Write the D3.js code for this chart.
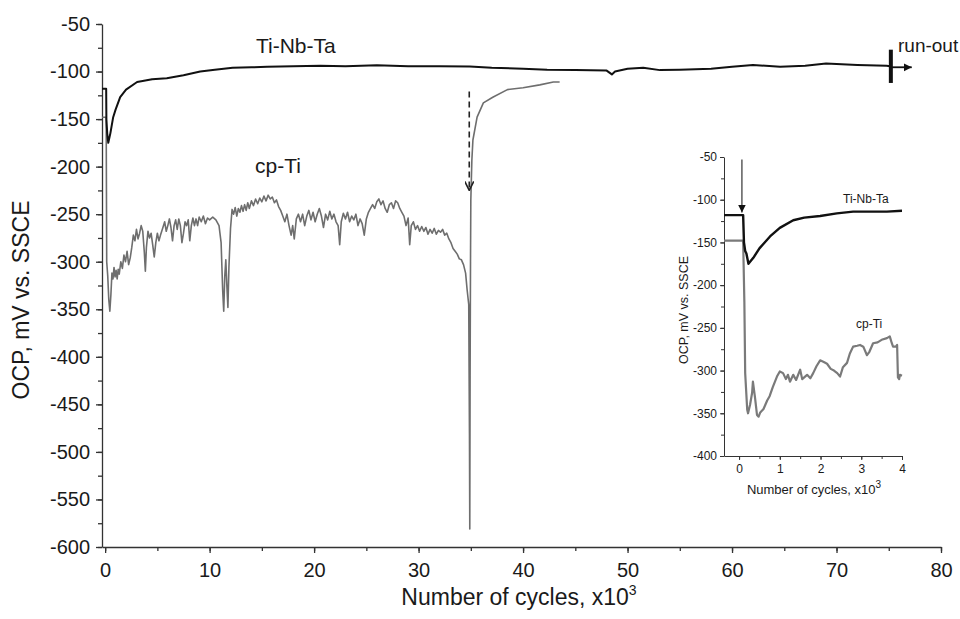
<!DOCTYPE html>
<html>
<head>
<meta charset="utf-8">
<script src="https://cdn.jsdelivr.net/npm/d3@7"></script>
<style>
  body { margin: 0; background: #fff; }
  svg text { font-family: "Liberation Sans", Arial, sans-serif; fill: #1a1a1a; }
  .axis path, .axis line { stroke: #333; }
</style>
</head>
<body>
<div id="chart"></div>
<script>
// main plot data (x in thousands of cycles, y in mV vs SSCE)
var tiNbTaX = [-0.3, 0.1, 0.12, 0.2, 0.3, 0.5, 0.77, 1.0, 1.44, 2.0, 3.06, 4.5, 5.9, 7.5, 9.1, 10.5, 12.2, 14, 15.5, 18, 20.6, 23, 26, 29, 32, 34.9, 37, 40, 42.3, 45, 48.0, 48.5, 48.8, 50, 51.5, 53.1, 55, 58, 60, 62, 64.6, 67, 69, 72, 74.8, 75.1];
var tiNbTaY = [-118, -118, -150, -165, -175, -165, -148, -140, -127, -119, -111, -108, -107, -104, -100, -98, -96, -95.5, -95, -94.5, -94, -94.5, -93.5, -94.5, -94.5, -94.6, -96, -97, -98, -98.5, -99, -103, -100, -97, -96, -98.5, -98, -97, -95, -93, -95, -94, -91.5, -93, -94, -94.5];

var cpTiX = [
  -0.3, 0.1, 0.15, 0.25, 0.35, 0.45, 0.55, 0.65, 0.75, 0.85,
  0.95, 1.05, 1.15, 1.25, 1.35, 1.5, 1.65, 1.8, 1.95, 2.1,
  2.25, 2.4, 2.55, 2.7, 2.85, 3.0, 3.15, 3.3, 3.45, 3.6,
  3.75, 3.85, 3.95, 4.1, 4.25, 4.4, 4.55, 4.7, 4.85, 5.0,
  5.15, 5.3, 5.5, 5.7, 5.85, 6.0, 6.15, 6.3, 6.45, 6.6,
  6.75, 6.9, 7.05, 7.2, 7.35, 7.5, 7.65, 7.8, 7.95, 8.1,
  8.25, 8.4, 8.55, 8.7, 8.85, 9.0, 9.2, 9.4, 9.6, 9.8,
  10.0, 10.3, 10.6, 10.9, 11.1, 11.25, 11.35, 11.45, 11.55, 11.65,
  11.75, 11.85, 12.0, 12.15, 12.3, 12.45, 12.6, 12.75, 12.9, 13.05,
  13.2, 13.35, 13.5, 13.65, 13.8, 14.0, 14.2, 14.4, 14.6, 14.8,
  15.0, 15.2, 15.4, 15.6, 15.8, 16.0, 16.2, 16.4, 16.6, 16.8,
  17.0, 17.2, 17.4, 17.6, 17.8, 17.95, 18.1, 18.3, 18.5, 18.7,
  18.9, 19.1, 19.3, 19.5, 19.7, 19.9, 20.1, 20.3, 20.5, 20.7,
  20.9, 21.1, 21.3, 21.5, 21.7, 21.9, 22.1, 22.3, 22.45, 22.6,
  22.8, 23.0, 23.2, 23.4, 23.6, 23.8, 24.0, 24.2, 24.4, 24.6,
  24.8, 25.0, 25.2, 25.4, 25.6, 25.8, 26.0, 26.2, 26.4, 26.6,
  26.8, 27.0, 27.2, 27.4, 27.6, 27.8, 28.0, 28.2, 28.4, 28.6,
  28.8, 29.0, 29.15, 29.3, 29.5, 29.7, 29.9, 30.1, 30.3, 30.5,
  30.7, 30.9, 31.1, 31.3, 31.5, 31.7, 31.9, 32.1, 32.3, 32.5,
  32.7, 32.9, 33.1, 33.3, 33.5, 33.7, 33.9, 34.1, 34.3, 34.5,
  34.65, 34.8, 34.87, 34.9, 34.93, 34.97, 35.0, 35.1, 35.2, 35.6,
  36.2, 37.1, 38.5, 40.0, 41.6, 42.9, 43.5
];
var cpTiY = [
  -148, -148, -300, -315, -340, -352, -335, -312, -318, -306,
  -316, -309, -318, -308, -313, -300, -307, -293, -300, -289,
  -303, -296, -285, -272, -278, -266, -276, -270, -262, -268,
  -290, -310, -285, -268, -275, -270, -282, -295, -280, -270,
  -278, -272, -265, -258, -268, -262, -255, -264, -278, -262,
  -256, -266, -255, -262, -280, -270, -258, -262, -256, -278,
  -262, -254, -262, -255, -262, -253, -258, -252, -260, -254,
  -256, -253, -256, -262, -280, -330, -352, -315, -298, -325,
  -348, -305, -265, -245, -250, -243, -252, -244, -248, -241,
  -247, -240, -246, -238, -244, -236, -241, -234, -239, -233,
  -237, -231, -236, -230, -234, -232, -238, -235, -242, -246,
  -252, -258, -250, -262, -272, -262, -276, -255, -250, -258,
  -250, -262, -252, -246, -256, -248, -258, -250, -244, -252,
  -264, -250, -256, -247, -255, -250, -258, -262, -282, -258,
  -249, -255, -248, -258, -252, -256, -250, -262, -255, -260,
  -272, -255, -248, -244, -240, -244, -237, -234, -240, -236,
  -244, -248, -240, -238, -244, -236, -238, -244, -248, -252,
  -262, -254, -282, -262, -258, -266, -262, -268, -263, -268,
  -264, -271, -266, -270, -265, -271, -267, -269, -266, -272,
  -270, -276, -280, -286, -289, -292, -297, -298, -303, -312,
  -330, -345, -480, -581, -420, -300, -235, -193, -172, -148,
  -133, -127, -119, -117, -114, -111, -111
];

var xTicks = [0, 10, 20, 30, 40, 50, 60, 70, 80];
var yTicks = [-50, -100, -150, -200, -250, -300, -350, -400, -450, -500, -550, -600];

// inset data (first 4000 cycles)
var insetTiNbTaX = [-0.37, 0.1, 0.12, 0.15, 0.18, 0.23, 0.35, 0.5, 0.76, 1.0, 1.33, 1.6, 1.99, 2.4, 2.8, 3.2, 3.63, 4.0];
var insetTiNbTaY = [-118, -118, -150, -160, -163, -175, -168, -157, -143, -133, -124, -121, -119, -116, -114, -114, -114, -113];

var insetCpTiX = [-0.37, 0.1, 0.13, 0.15, 0.2, 0.22, 0.27, 0.32, 0.34, 0.39, 0.44, 0.48, 0.52, 0.6, 0.69, 0.75, 0.83, 0.93, 1.0, 1.08, 1.15, 1.2, 1.25, 1.33, 1.4, 1.5, 1.55, 1.67, 1.75, 1.82, 1.9, 1.99, 2.08, 2.16, 2.25, 2.33, 2.41, 2.48, 2.55, 2.65, 2.72, 2.8, 2.9, 2.97, 3.05, 3.14, 3.2, 3.29, 3.4, 3.5, 3.63, 3.7, 3.75, 3.78, 3.85, 3.88, 3.9, 3.93, 3.95, 4.0];
var insetCpTiY = [-148, -148, -220, -303, -346, -350, -340, -326, -313, -331, -352, -354, -349, -345, -335, -330, -319, -307, -301, -303, -310, -305, -313, -305, -311, -299, -310, -305, -309, -303, -295, -288, -290, -292, -298, -300, -303, -307, -296, -291, -280, -272, -271, -270, -272, -282, -278, -268, -267, -264, -262, -260, -268, -272, -272, -270, -308, -310, -305, -306];

var insetXTicks = [0, 1, 2, 3, 4];
var insetYTicks = [-50, -100, -150, -200, -250, -300, -350, -400];

var width = 960, height = 619;

var svg = d3.select("#chart").append("svg")
  .attr("width", width)
  .attr("height", height);

var defs = svg.append("defs");
defs.append("marker")
  .attr("id", "openHead")
  .attr("viewBox", "0 0 10 10")
  .attr("refX", 10).attr("refY", 5)
  .attr("markerWidth", 11).attr("markerHeight", 9)
  .attr("markerUnits", "userSpaceOnUse")
  .attr("orient", "auto")
  .append("path")
  .attr("d", "M0,0 L10,5 L0,10")
  .attr("fill", "none")
  .attr("stroke", "#222")
  .attr("stroke-width", 1.8);
defs.append("marker")
  .attr("id", "solidHead")
  .attr("viewBox", "0 0 10 10")
  .attr("refX", 10).attr("refY", 5)
  .attr("markerWidth", 8).attr("markerHeight", 11)
  .attr("markerUnits", "userSpaceOnUse")
  .attr("orient", "auto")
  .append("path")
  .attr("d", "M0,0 L10,5 L0,10 Z")
  .attr("fill", "#111");

function zip(xs, ys) {
  return xs.map(function(d, i) { return [d, ys[i]]; });
}

function range(a, b, step) {
  return d3.range(a, b + step / 2, step);
}

// plain hyphen minus, like the original figure
var plain = function(d) { return String(d); };

// ---------- main chart ----------
var x = d3.scaleLinear().domain([-0.3, 80]).range([102, 941]);
var y = d3.scaleLinear().domain([-600, -50]).range([547, 24]);

var g = svg.append("g");

// minor ticks
g.append("g").attr("class", "axis")
  .attr("transform", "translate(0," + y(-600) + ")")
  .call(d3.axisBottom(x).tickValues(range(0, 80, 5)).tickSize(4).tickFormat(""))
  .select(".domain").remove();
g.append("g").attr("class", "axis")
  .attr("transform", "translate(" + x(-0.3) + ",0)")
  .call(d3.axisLeft(y).tickValues(range(-600, -50, 25)).tickSize(4).tickFormat(""))
  .select(".domain").remove();

var xAxis = g.append("g").attr("class", "axis")
  .attr("transform", "translate(0," + y(-600) + ")")
  .call(d3.axisBottom(x).tickValues(xTicks).tickFormat(plain).tickSize(6).tickSizeOuter(0).tickPadding(5));
xAxis.selectAll("text").style("font-size", "20px").attr("dy", "0.95em");

var yAxis = g.append("g").attr("class", "axis")
  .attr("transform", "translate(" + x(-0.3) + ",0)")
  .call(d3.axisLeft(y).tickValues(yTicks).tickFormat(plain).tickSize(6).tickSizeOuter(0).tickPadding(6));
yAxis.selectAll("text").style("font-size", "20px");
g.selectAll(".axis path, .axis line").attr("stroke-width", 1.3);

var line = d3.line()
  .x(function(d) { return x(d[0]); })
  .y(function(d) { return y(d[1]); });

g.append("path")
  .datum(zip(cpTiX, cpTiY))
  .attr("d", line)
  .attr("fill", "none")
  .attr("stroke", "#6e6e6e")
  .attr("stroke-width", 1.6)
  .attr("stroke-linejoin", "round");

g.append("path")
  .datum(zip(tiNbTaX, tiNbTaY))
  .attr("d", line)
  .attr("fill", "none")
  .attr("stroke", "#111")
  .attr("stroke-width", 2)
  .attr("stroke-linejoin", "round");

// run-out marker
g.append("line")
  .attr("x1", x(75.2)).attr("x2", x(75.2))
  .attr("y1", y(-77)).attr("y2", y(-112))
  .attr("stroke", "#111").attr("stroke-width", 4);
g.append("line")
  .attr("x1", x(75.2)).attr("x2", x(77.2))
  .attr("y1", y(-95.5)).attr("y2", y(-95.5))
  .attr("stroke", "#111").attr("stroke-width", 1.8)
  .attr("marker-end", "url(#solidHead)");
g.append("text")
  .attr("x", 898).attr("y", 52)
  .style("font-size", "19px")
  .text("run-out");

// dashed arrow at cp-Ti failure
g.append("line")
  .attr("x1", x(34.85)).attr("x2", x(34.85))
  .attr("y1", y(-121)).attr("y2", y(-225))
  .attr("stroke", "#222").attr("stroke-width", 1.6)
  .attr("stroke-dasharray", "6,4")
  .attr("marker-end", "url(#openHead)");

g.append("text").attr("x", 256).attr("y", 53).style("font-size", "21px").text("Ti-Nb-Ta");
g.append("text").attr("x", 255).attr("y", 173).style("font-size", "21px").text("cp-Ti");

var xt = g.append("text")
  .attr("x", 519).attr("y", 605)
  .attr("text-anchor", "middle")
  .style("font-size", "23px");
xt.append("tspan").text("Number of cycles, x10");
xt.append("tspan").attr("dy", -10).style("font-size", "14px").text("3");

g.append("text")
  .attr("transform", "translate(29,300) rotate(-90)")
  .attr("text-anchor", "middle")
  .style("font-size", "23px")
  .text("OCP, mV vs. SSCE");

// ---------- inset ----------
var ix = d3.scaleLinear().domain([-0.37, 4]).range([724, 902]);
var iy = d3.scaleLinear().domain([-400, -50]).range([456, 157]);

var ig = svg.append("g");

ig.append("g").attr("class", "axis")
  .attr("transform", "translate(0," + iy(-400) + ")")
  .call(d3.axisBottom(ix).tickValues(range(0, 4, 0.5)).tickSize(3).tickFormat(""))
  .select(".domain").remove();
ig.append("g").attr("class", "axis")
  .attr("transform", "translate(" + ix(-0.37) + ",0)")
  .call(d3.axisLeft(iy).tickValues(range(-400, -50, 25)).tickSize(3).tickFormat(""))
  .select(".domain").remove();

var ixAxis = ig.append("g").attr("class", "axis")
  .attr("transform", "translate(0," + iy(-400) + ")")
  .call(d3.axisBottom(ix).tickValues(insetXTicks).tickFormat(plain).tickSize(4).tickSizeOuter(0).tickPadding(4));
ixAxis.selectAll("text").style("font-size", "12px");

var iyAxis = ig.append("g").attr("class", "axis")
  .attr("transform", "translate(" + ix(-0.37) + ",0)")
  .call(d3.axisLeft(iy).tickValues(insetYTicks).tickFormat(plain).tickSize(4).tickSizeOuter(0).tickPadding(3));
iyAxis.selectAll("text").style("font-size", "12px");
ig.selectAll(".axis path, .axis line").attr("stroke", "#555").attr("stroke-width", 1);

var iline = d3.line()
  .x(function(d) { return ix(d[0]); })
  .y(function(d) { return iy(d[1]); });

ig.append("path")
  .datum(zip(insetCpTiX, insetCpTiY))
  .attr("d", iline)
  .attr("fill", "none")
  .attr("stroke", "#7a7a7a")
  .attr("stroke-width", 2.2)
  .attr("stroke-linejoin", "round");

ig.append("path")
  .datum(zip(insetTiNbTaX, insetTiNbTaY))
  .attr("d", iline)
  .attr("fill", "none")
  .attr("stroke", "#111")
  .attr("stroke-width", 2.4)
  .attr("stroke-linejoin", "round");

ig.append("line")
  .attr("x1", ix(0.07)).attr("x2", ix(0.07))
  .attr("y1", iy(-53)).attr("y2", iy(-115))
  .attr("stroke", "#333").attr("stroke-width", 1.2)
  .attr("marker-end", "url(#solidHead)");

ig.append("text").attr("x", 843).attr("y", 203).style("font-size", "12px").text("Ti-Nb-Ta");
ig.append("text").attr("x", 856).attr("y", 328).style("font-size", "12px").text("cp-Ti");

var ixt = ig.append("text")
  .attr("x", 814).attr("y", 494)
  .attr("text-anchor", "middle")
  .style("font-size", "13px");
ixt.append("tspan").text("Number of cycles, x10");
ixt.append("tspan").attr("dy", -6).style("font-size", "10px").text("3");

ig.append("text")
  .attr("transform", "translate(688,310) rotate(-90)")
  .attr("text-anchor", "middle")
  .style("font-size", "12.5px")
  .text("OCP, mV vs. SSCE");
</script>
</body>
</html>
